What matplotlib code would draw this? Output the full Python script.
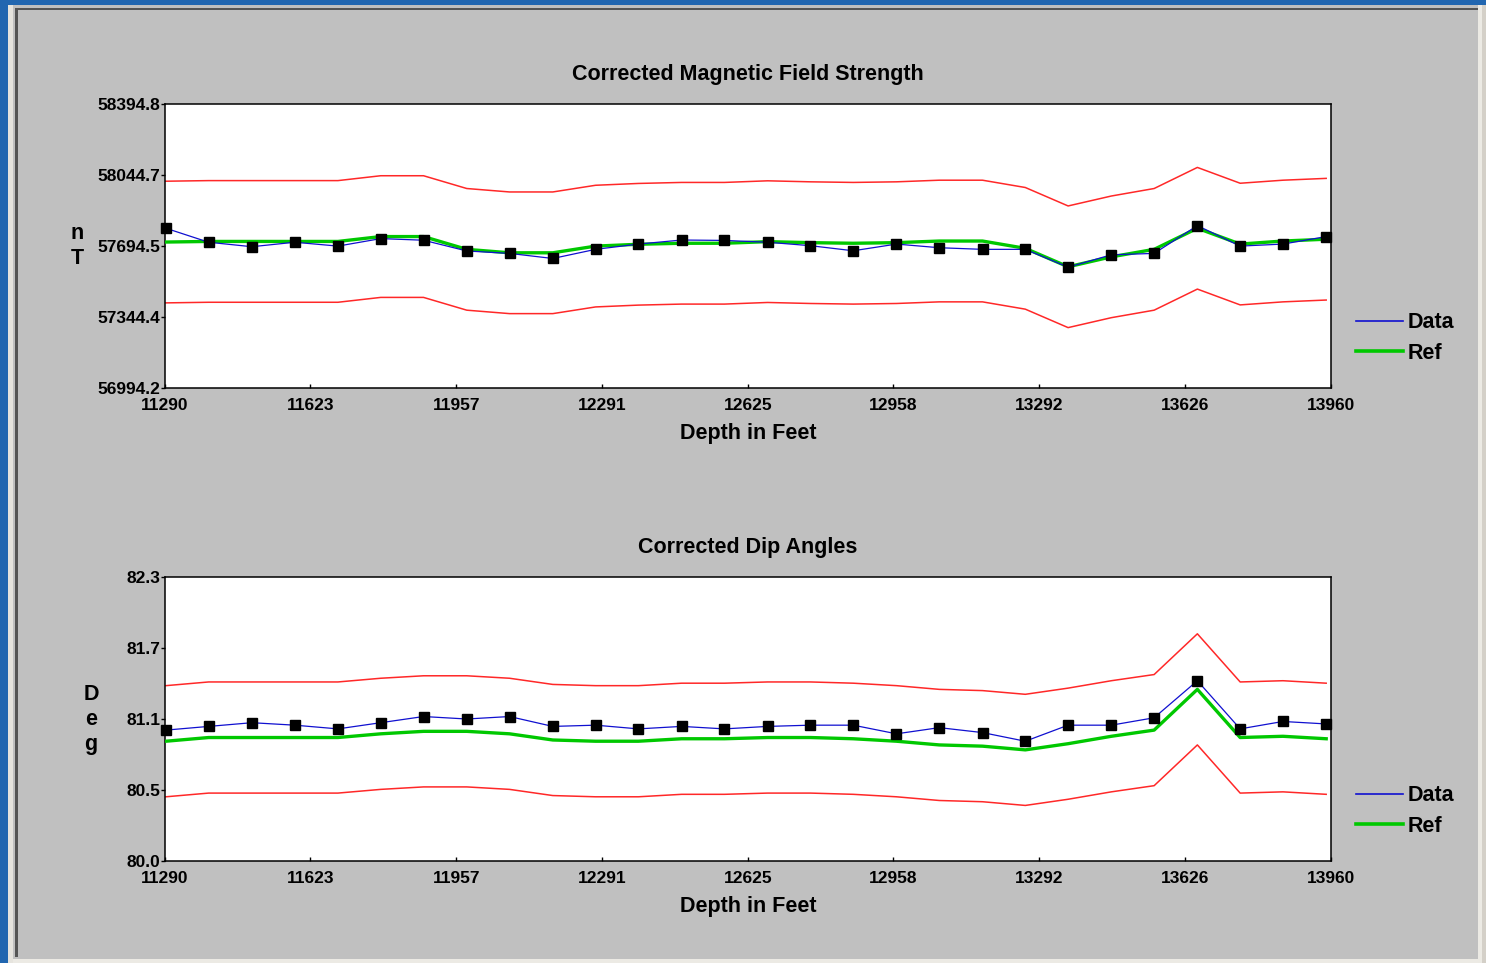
import matplotlib
matplotlib.use("Agg")
import matplotlib.pyplot as plt
from matplotlib.patches import Rectangle
from matplotlib.lines import Line2D

plt.rcParams['font.family'] = ['Liberation Sans', 'DejaVu Sans']
plt.rcParams['font.weight'] = 'bold'

W, H = 1486, 963

# survey depths (ft)
depth = [11292, 11390, 11489, 11587, 11686, 11784, 11882, 11981, 12079, 12178,
         12276, 12374, 12473, 12571, 12670, 12768, 12866, 12965, 13063, 13162,
         13260, 13358, 13457, 13555, 13654, 13752, 13850, 13949]

# corrected total field, nT
mag_data = [57782, 57713, 57691, 57713, 57694, 57731, 57723, 57670, 57658, 57633,
            57678, 57704, 57724, 57722, 57713, 57696, 57671, 57704, 57686, 57678,
            57678, 57590, 57651, 57658, 57795, 57694, 57704, 57741]
mag_ref = [57714, 57717, 57717, 57717, 57717, 57741, 57741, 57678, 57661, 57661,
           57694, 57703, 57708, 57708, 57716, 57711, 57708, 57711, 57719, 57719,
           57683, 57592, 57641, 57678, 57782, 57704, 57719, 57728]
mag_tol = 300.0

# corrected dip, deg
dip_data = [81.06, 81.09, 81.12, 81.10, 81.07, 81.12, 81.17, 81.15, 81.17, 81.09,
            81.10, 81.07, 81.09, 81.07, 81.09, 81.10, 81.10, 81.03, 81.08, 81.04,
            80.97, 81.10, 81.10, 81.16, 81.46, 81.07, 81.13, 81.11]
dip_ref = [80.97, 81.00, 81.00, 81.00, 81.00, 81.03, 81.05, 81.05, 81.03, 80.98,
           80.97, 80.97, 80.99, 80.99, 81.00, 81.00, 80.99, 80.97, 80.94, 80.93,
           80.90, 80.95, 81.01, 81.06, 81.39, 81.00, 81.01, 80.99]
dip_tol = 0.45

depth_ticks = [11290, 11623, 11957, 12291, 12625, 12958, 13292, 13626, 13960]
mag_ticks = ['56994.2', '57344.4', '57694.5', '58044.7', '58394.8']
dip_ticks = ['80.0', '80.5', '81.1', '81.7', '82.3']

BLUE = '#1010D0'
GREEN = '#00C800'
RED = '#FF2828'


def px_rect(fig, x, y, w, h, color):
    fig.add_artist(Rectangle((x / W, 1 - (y + h) / H), w / W, h / H,
                             transform=fig.transFigure, color=color, lw=0, zorder=-5))


def draw_panel(ax, data, ref, tol, ylims, ylabels, title, ylab, ylab_x):
    upper = [r + tol for r in ref]
    lower = [r - tol for r in ref]
    ax.plot(depth, upper, color=RED, lw=1.1, zorder=2)
    ax.plot(depth, lower, color=RED, lw=1.1, zorder=2)
    ax.plot(depth, ref, color=GREEN, lw=2.4, zorder=3)
    ax.plot(depth, data, color=BLUE, lw=0.9, zorder=4)
    ax.plot(depth, data, ls='none', marker='s', ms=6.5, color='black', zorder=5,
            clip_on=False)

    ax.set_xlim(11290, 13960)
    ax.set_ylim(*ylims)
    step = (ylims[1] - ylims[0]) / 4
    ax.set_yticks([ylims[0] + i * step for i in range(5)])
    ax.set_yticklabels(ylabels)
    ax.set_xticks(depth_ticks)
    ax.set_xticklabels([str(d) for d in depth_ticks])
    ax.tick_params(axis='y', direction='out', length=3, width=1, pad=0.5,
                   labelsize=12.5)
    ax.tick_params(axis='x', direction='in', length=3, width=1, pad=7.5,
                   labelsize=12.5)
    for s in ax.spines.values():
        s.set_linewidth(1.1)
    ax.set_title(title, fontsize=15.5, fontweight='bold', pad=17)
    ax.set_xlabel('Depth in Feet', fontsize=15.5, fontweight='bold', labelpad=7)
    ax.text(ylab_x, 0.5, '\n'.join(ylab), transform=ax.transAxes, ha='center',
            va='center', fontsize=15.5, fontweight='bold', linespacing=1.25)

    handles = [Line2D([], [], color=BLUE, lw=1.2), Line2D([], [], color=GREEN, lw=2.6)]
    ax.legend(handles, ['Data', 'Ref'], loc='center left',
              bbox_to_anchor=(1.0214, 0.176), frameon=False, fontsize=15.5,
              handlelength=2.2, handletextpad=0.2, labelspacing=0.45,
              borderaxespad=0, borderpad=0)


fig = plt.figure(figsize=(W / 100, H / 100), dpi=100, facecolor='#C0C0C0')

# window frame
px_rect(fig, 0, 0, W, 5, '#2166B0')
px_rect(fig, 0, 0, 8, H, '#2166B0')
px_rect(fig, 8, 5, 5, H - 5, '#E6E4DE')
px_rect(fig, 15, 8, W - 23, 2, '#555555')
px_rect(fig, 15, 8, 3, H - 14, '#555555')
px_rect(fig, 13, 959, W - 13, 4, '#ECEAE4')
px_rect(fig, 1478, 5, 4, H - 5, '#ECEAE4')
px_rect(fig, 1482, 5, 4, H - 5, '#D4D0C8')

left = 165 / W
width = 1166 / W
height = 284 / H
ax1 = fig.add_axes([left, 1 - 388 / H, width, height])
ax2 = fig.add_axes([left, 1 - 861 / H, width, height])

draw_panel(ax1, mag_data, mag_ref, mag_tol, (56994.2, 58394.8), mag_ticks,
           'Corrected Magnetic Field Strength', 'nT', -0.0755)
draw_panel(ax2, dip_data, dip_ref, dip_tol, (80.0, 82.3), dip_ticks,
           'Corrected Dip Angles', 'Deg', -0.0635)

fig.savefig('out.png', dpi=100, facecolor=fig.get_facecolor())
